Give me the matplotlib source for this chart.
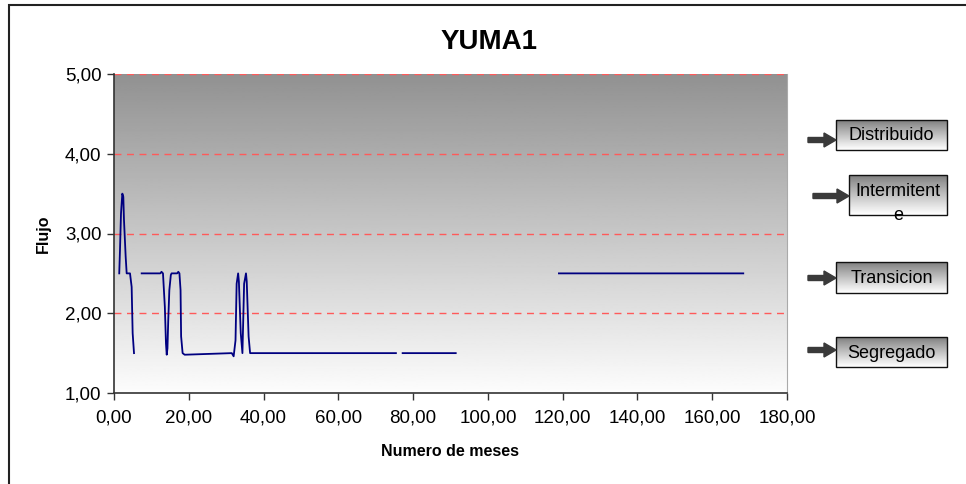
import numpy as np
import matplotlib.pyplot as plt
from matplotlib.patches import Rectangle, FancyArrow
from matplotlib.ticker import FuncFormatter

plt.rcParams['font.family'] = ['Liberation Sans', 'DejaVu Sans']

# months / flow regime, NaN breaks the line where data is missing
meses = [1.4, 1.6, 1.87, 2.23, 2.49, 2.67, 3.12, 3.39, 4.28, 4.72, 4.99, 5.35,
         np.nan,
         7.4, 12.4, 12.7, 13.1, 13.6, 13.9, 14.1, 14.3, 14.5, 14.8, 15.2, 15.4,
         16.9, 17.2, 17.5, 17.8, 17.95, 18.35, 18.9, 31.5, 32.0, 32.5, 32.8,
         33.2, 33.4, 33.9, 34.35, 34.8, 35.3, 35.5, 36.0, 36.4, 75.4,
         np.nan,
         77.2, 91.4,
         np.nan,
         119.0, 168.3]
flujo = [2.50, 2.79, 3.25, 3.50, 3.46, 3.17, 2.71, 2.50, 2.50, 2.33, 1.75, 1.50,
         np.nan,
         2.50, 2.50, 2.52, 2.50, 2.08, 1.62, 1.48, 1.56, 1.90, 2.29, 2.48, 2.50,
         2.50, 2.52, 2.50, 2.29, 1.71, 1.50, 1.48, 1.50, 1.46, 1.66, 2.37,
         2.50, 2.40, 1.75, 1.50, 2.37, 2.50, 2.40, 1.71, 1.50, 1.50,
         np.nan,
         1.50, 1.50,
         np.nan,
         2.50, 2.50]

niveles = [2.0, 3.0, 4.0, 5.0]
etiquetas = ['Distribuido', 'Intermitent\ne', 'Transicion', 'Segregado']

W, H = 966, 484
fig = plt.figure(figsize=(W / 100, H / 100), dpi=100)
ax = fig.add_axes([114 / W, 1 - 393 / H, (787 - 114) / W, (393 - 74) / H])

# grey-to-white gradient behind the plot
ax.imshow(np.linspace(0.57, 0.99, 256).reshape(-1, 1), cmap='gray', vmin=0, vmax=1,
          aspect='auto', extent=[0, 180, 1, 5], origin='upper', zorder=0)

for y in niveles:
    ax.axhline(y, color='#ff5a5a', lw=1.0, ls=(0, (5, 4)), zorder=1)

ax.plot(meses, flujo, color='#000080', lw=1.3, zorder=3)

ax.set_xlim(0, 180)
ax.set_ylim(1, 5)
ax.set_xticks(np.arange(0, 181, 20))
ax.set_yticks(np.arange(1, 5.01, 1))
fmt = FuncFormatter(lambda v, p: f'{v:.2f}'.replace('.', ','))
ax.xaxis.set_major_formatter(fmt)
ax.yaxis.set_major_formatter(fmt)
ax.tick_params(labelsize=13.5, length=5, width=1, color='#333333', pad=4)
ax.tick_params(axis='x', pad=7)
ax.spines['top'].set_visible(False)
ax.spines['right'].set_color('#aaaaaa')
ax.spines['left'].set_color('#333333')
ax.spines['bottom'].set_color('#333333')
ax.spines['left'].set_linewidth(1.2)
ax.spines['bottom'].set_linewidth(1.2)

fig.text(489 / W, 1 - 42 / H, 'YUMA1', ha='center', va='center',
         fontsize=20, fontweight='bold')
fig.text(43 / W, 1 - 234 / H, 'Flujo', ha='center', va='center', rotation=90,
         fontsize=11.5, fontweight='bold')
fig.text(450 / W, 1 - 451 / H, 'Numero de meses', ha='center', va='center',
         fontsize=11.5, fontweight='bold')

# outer chart border
fig.patches.append(Rectangle((9 / W, -0.1), 1.2, 1 - 5 / H + 0.1, transform=fig.transFigure,
                             fill=False, ec='#222222', lw=1.5, clip_on=False))

# regime labels with arrows on the right
cajas = [(836, 120, 947, 150, 140, 808),
         (849, 175, 947, 215, 196, 813),
         (836, 262, 947, 293, 278, 808),
         (836, 337, 947, 367, 350, 808)]
bax = fig.add_axes([0, 0, 1, 1], zorder=5)
bax.set_xlim(0, W)
bax.set_ylim(H, 0)
bax.axis('off')
for (x0, y0, x1, y1, ya, xa), txt in zip(cajas, etiquetas):
    shade = np.linspace(0.42, 1.0, 64) ** 0.8
    bax.imshow(shade.reshape(-1, 1), cmap='gray', vmin=0, vmax=1,
               aspect='auto', extent=[x0, x1, y1, y0], origin='upper', zorder=1)
    bax.add_patch(Rectangle((x0, y0), x1 - x0, y1 - y0, fill=False, ec='#111111',
                            lw=1.0, zorder=2))
    bax.add_patch(FancyArrow(xa, ya, x0 - xa - 12, 0, width=5, head_width=14,
                             head_length=12, length_includes_head=False,
                             color='#3a3a3a', zorder=3))
    if '\n' in txt:
        t = bax.text((x0 + x1) / 2, y0 + 8, txt, ha='center', va='top',
                     fontsize=13, linespacing=1.5, zorder=4)
    else:
        t = bax.text((x0 + x1) / 2, (y0 + y1) / 2 + 1, txt, ha='center', va='center',
                     fontsize=13, zorder=4)
    t.set_clip_path(Rectangle((x0, y0), x1 - x0, y1 - y0, transform=bax.transData))
bax.set_xlim(0, W)
bax.set_ylim(H, 0)

fig.savefig('out.png', dpi=100)
